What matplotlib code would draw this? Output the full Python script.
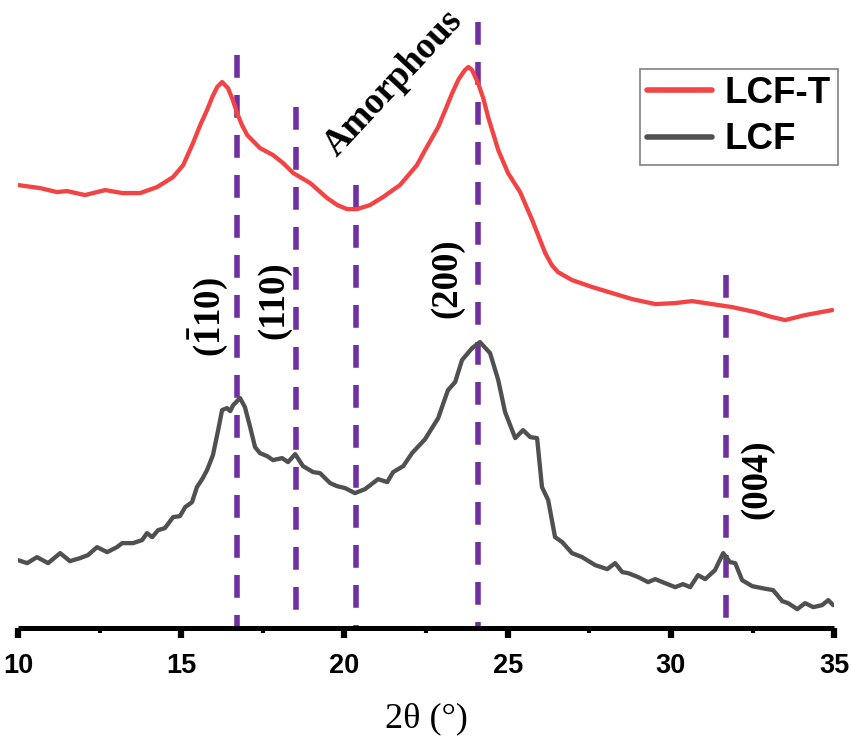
import numpy as np
import matplotlib
matplotlib.use("Agg")
import matplotlib.pyplot as plt

plt.rcParams['mathtext.fontset'] = 'custom'
plt.rcParams['mathtext.rm'] = 'Liberation Serif'
plt.rcParams['mathtext.bf'] = 'Liberation Serif:bold'

# LCF-T (heat treated) pattern
two_theta_t = [10.00, 10.67, 11.19, 11.50, 12.05, 12.67, 13.19, 13.74, 14.26, 14.75,
               15.06, 15.36, 15.58, 15.79, 15.95, 16.10, 16.25, 16.43, 16.58, 16.71,
               16.86, 17.02, 17.41, 17.81, 18.12, 18.43, 18.95, 19.47, 19.78, 20.08,
               20.39, 20.78, 21.18, 21.70, 22.22, 22.47, 22.87, 23.10, 23.30, 23.50,
               23.69, 23.80, 23.91, 24.09, 24.25, 24.40, 24.71, 25.01, 25.38, 25.75,
               26.15, 26.35, 26.54, 26.97, 27.59, 28.20, 28.81, 29.52, 30.13, 30.65,
               31.26, 31.87, 32.58, 33.10, 33.50, 34.11, 34.94]
intensity_t = [443, 440, 436, 437, 433, 438, 435, 435, 441, 451,
               463, 485, 503, 518, 531, 541, 546, 540, 528, 515,
               503, 493, 480, 473, 465, 455, 445, 430, 423, 419,
               419, 423, 431, 443, 463, 478, 501, 519, 535, 549,
               558, 561, 558, 545, 530, 511, 478, 455, 436, 408,
               375, 363, 356, 348, 341, 335, 329, 324, 325, 327,
               324, 321, 316, 311, 308, 313, 318]

# LCF pattern
two_theta = [10.00, 10.28, 10.58, 10.92, 11.29, 11.59, 11.90, 12.14, 12.42, 12.73,
             13.03, 13.19, 13.52, 13.80, 13.95, 14.11, 14.29, 14.50, 14.75, 14.96,
             15.12, 15.33, 15.48, 15.64, 15.79, 15.97, 16.13, 16.25, 16.40, 16.50,
             16.59, 16.80, 16.95, 17.11, 17.26, 17.41, 17.63, 17.81, 18.09, 18.27,
             18.49, 18.73, 19.04, 19.25, 19.56, 19.77, 20.02, 20.32, 20.63, 21.03,
             21.31, 21.49, 21.80, 22.07, 22.47, 22.87, 23.17, 23.39, 23.60, 23.91,
             24.15, 24.46, 24.71, 24.92, 25.23, 25.47, 25.69, 25.90, 26.05, 26.24,
             26.45, 26.67, 26.97, 27.28, 27.68, 28.05, 28.29, 28.51, 28.69, 29.00,
             29.30, 29.52, 29.82, 30.13, 30.37, 30.59, 30.83, 31.05, 31.35, 31.60,
             31.81, 31.97, 32.18, 32.49, 32.79, 33.13, 33.41, 33.59, 33.87, 34.11,
             34.36, 34.63, 34.82, 34.97]
intensity = [68, 65, 71, 65, 75, 67, 70, 73, 81, 76,
             81, 85, 85, 88, 95, 91, 98, 100, 111, 112,
             121, 126, 141, 149, 158, 173, 198, 218, 220, 217,
             223, 230, 221, 201, 181, 175, 172, 168, 170, 166,
             174, 162, 156, 155, 145, 142, 140, 135, 139, 149,
             146, 156, 162, 175, 189, 210, 238, 246, 268, 280,
             286, 275, 248, 216, 190, 198, 191, 190, 141, 128,
             91, 86, 75, 71, 63, 59, 65, 56, 55, 51,
             46, 49, 45, 41, 44, 41, 53, 49, 58, 75,
             66, 65, 48, 42, 40, 38, 27, 25, 19, 25,
             21, 23, 28, 23]

# reference peak positions and how high each marker line reaches
peak_pos = [16.7, 18.5, 20.35, 24.1, 31.7]
peak_top = [573, 521, 443, 606, 353]

labels = [r'$\mathbf{(\bar{1}10)}$', '(110)', '(200)', '(004)', 'Amorphous']
label_x = [15.82, 17.84, 23.14, 32.64, 21.5]
label_y = [311, 328, 350, 149, 545]
label_rot = [90, 90, 90, 90, 47]

fig = plt.figure(figsize=(8.51, 7.39), dpi=100)
ax = fig.add_axes([0.0212, 0.150, 0.959, 0.8256])

purple = '#7030A0'
for xp, top in zip(peak_pos, peak_top):
    ax.plot([xp, xp], [top, 0], color=purple, lw=4, dashes=(4.1, 3.1), zorder=1)

ax.plot(two_theta_t, intensity_t, color='#F24444', lw=3.1, label='LCF-T', zorder=2,
        solid_joinstyle='round', solid_capstyle='round')
ax.plot(two_theta, intensity, color='#505050', lw=3.1, label='LCF', zorder=2,
        solid_joinstyle='round', solid_capstyle='round')

for txt, lx, ly, rot in zip(labels, label_x, label_y, label_rot):
    ax.text(lx, ly, txt, rotation=rot, ha='center', va='center', fontsize=26.5,
            family='Liberation Serif', fontweight='bold', rotation_mode='anchor')

ax.set_xlim(10, 35)
ax.set_ylim(0, 610)
for s in ['top', 'left', 'right']:
    ax.spines[s].set_visible(False)
ax.spines['bottom'].set_linewidth(3.6)
ax.spines['bottom'].set_capstyle('butt')
ax.set_yticks([])
ax.set_xticks(np.arange(10, 36, 5))
ax.set_xticks(np.arange(12.5, 35, 5), minor=True)
ax.tick_params(axis='x', which='major', direction='out', length=7, width=4.5, pad=11,
               labelsize=19.5)
ax.tick_params(axis='x', which='minor', direction='out', length=3.5, width=3)
for lab in ax.get_xticklabels():
    lab.set_family('Liberation Sans')
    lab.set_fontweight('bold')

ax.set_xlabel('2θ (°)', family='Liberation Serif', fontsize=26, labelpad=17)
ax.patch.set_visible(False)

leg = ax.legend(loc='upper right', bbox_to_anchor=(838 / 851, 1 - 69 / 739),
                bbox_transform=fig.transFigure, borderaxespad=0,
                prop={'family': 'Liberation Sans', 'weight': 'bold', 'size': 26.5},
                handlelength=1.75, handletextpad=0.35, labelspacing=0.3,
                borderpad=0.2, fancybox=False, framealpha=1)
leg.get_frame().set_edgecolor('#808080')
leg.get_frame().set_linewidth(1.2)
for line in leg.get_lines():
    line.set_linewidth(4)

fig.savefig('out.png', dpi=100)
